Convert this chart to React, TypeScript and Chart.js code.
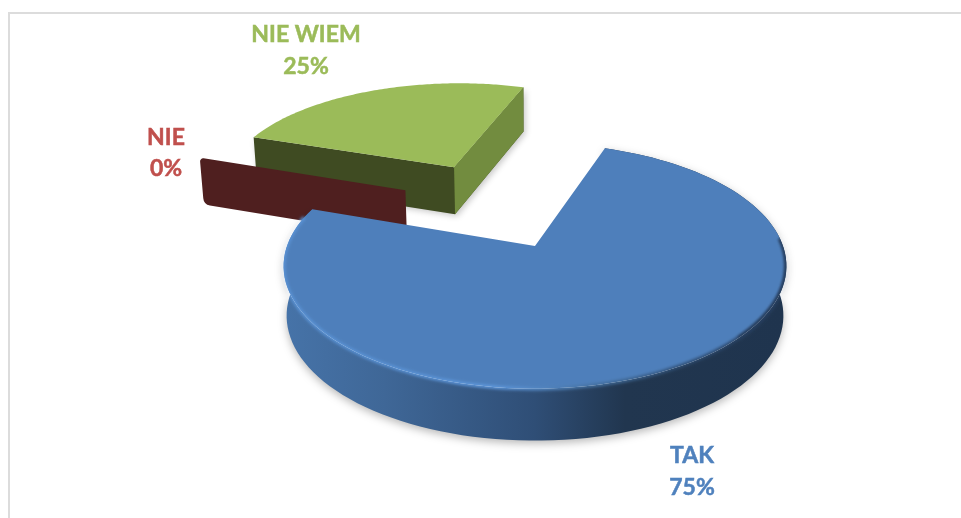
import React, { useEffect, useRef } from "react";
import { Chart, registerables } from "chart.js";

Chart.register(...registerables);

const categories = ["TAK", "NIE", "NIE WIEM"];
const values = [75, 0, 25];
const sliceColors = ["#4e7fbb", "#c0504d", "#9bbb59"];
const labelColors = ["#4f81bd", "#c0504d", "#9bbb59"];

// View / rendering parameters of the tilted pie
const FIRST_SLICE_ANGLE = 19;
const PIE_RADIUS = 248;
const PERSPECTIVE = 0.164;
const TILT = 0.481;
const EXPLOSION = [[0, 0], [-0.566, 0.507], [-0.366, 0.741]];
const SLICE_SCALE = [1, 1.027, 1.014];
const SLICE_SHEAR = [0, 0, 0.06];
const LABEL_CENTERS = [[692, 456, 488], [166, 138, 169], [306, 35, 67]];
const FONT = 'bold 23px Lato, "Open Sans", sans-serif';

const pie3d = {
  id: "pie3d",
  beforeDatasetDraw() {
    return false; // replaced by the projected drawing below
  },
  afterDatasetsDraw(chart: any) {
    const ctx: CanvasRenderingContext2D = chart.ctx;
    const arcs = chart.getDatasetMeta(0).data;

    const pointsFor = (i: number) => {
      const a = arcs[i];
      const { x: cx, y: cy, outerRadius: R, startAngle, endAngle } = a.getProps(
        ["x", "y", "outerRadius", "startAngle", "endAngle"],
        true
      );
      const [ox, oy] = EXPLOSION[i];
      const project = (x: number, y: number) => {
        const w = 1 + PERSPECTIVE * y;
        return [cx + (R * x) / w, cy - (R * TILT * y) / w];
      };
      const apex = project(ox, oy);
      const top = (u: number, v: number) => {
        const [X, Y] = project(ox + u, oy + v);
        const dx = (X - apex[0]) * SLICE_SCALE[i];
        const dy = (Y - apex[1]) * SLICE_SCALE[i];
        return [apex[0] + dx + SLICE_SHEAR[i] * dy, apex[1] + dy];
      };
      const bot = (u: number, v: number) => {
        const [X, Y] = top(u, v);
        const y = oy + v;
        return [cx + (X - cx) * 0.988, Y + 49.1 - 2.86 * y];
      };
      const rim = (from: number, to: number, f: (u: number, v: number) => number[]) => {
        const n = 120;
        const out: number[][] = [];
        for (let k = 0; k <= n; k++) {
          const t = from + ((to - from) * k) / n;
          out.push(f(Math.cos(t), -Math.sin(t)));
        }
        return out;
      };
      return { top, bot, rim, startAngle, endAngle, color: a.options.backgroundColor };
    };

    const poly = (pts: number[][]) => {
      ctx.beginPath();
      pts.forEach((p, k) => (k ? ctx.lineTo(p[0], p[1]) : ctx.moveTo(p[0], p[1])));
      ctx.closePath();
    };
    const line = (pts: number[][]) => {
      ctx.beginPath();
      pts.forEach((p, k) => (k ? ctx.lineTo(p[0], p[1]) : ctx.moveTo(p[0], p[1])));
    };

    // NIE WIEM
    {
      const s = pointsFor(2);
      const sc = [Math.cos(s.startAngle), -Math.sin(s.startAngle)];
      const ec = [Math.cos(s.endAngle), -Math.sin(s.endAngle)];
      ctx.save();
      ctx.shadowColor = "rgba(0,0,0,0.22)";
      ctx.shadowBlur = 6;
      ctx.shadowOffsetX = 2;
      ctx.shadowOffsetY = 2;
      poly([s.top(0, 0), s.top(ec[0], ec[1]), s.bot(ec[0], ec[1]), s.bot(0, 0), s.bot(sc[0], sc[1]), s.top(sc[0], sc[1])]);
      ctx.fillStyle = "#3f4b22";
      ctx.fill();
      ctx.restore();
      poly([s.top(0, 0), s.top(ec[0], ec[1]), s.bot(ec[0], ec[1]), s.bot(0, 0)]);
      ctx.fillStyle = "#728c3f";
      ctx.fill();
      poly(s.rim(s.startAngle, s.endAngle, s.top).concat([s.top(0, 0)]));
      ctx.fillStyle = s.color;
      ctx.fill();
    }

    // NIE: a zero-width slice leaves only its radial wall
    {
      const s = pointsFor(1);
      const e = [Math.cos(s.startAngle), -Math.sin(s.startAngle)];
      const a = s.top(0, 0);
      const b = s.top(e[0], e[1]);
      const c = s.bot(e[0], e[1]);
      const d = s.bot(0, 0);
      ctx.beginPath();
      ctx.moveTo(a[0], a[1]);
      ctx.arcTo(b[0], b[1], c[0], c[1], 3);
      ctx.arcTo(c[0], c[1], d[0], d[1], 8);
      ctx.lineTo(d[0], d[1]);
      ctx.closePath();
      ctx.fillStyle = "#4f1f1f";
      ctx.fill();
    }

    // TAK
    {
      const s = pointsFor(0);
      const topPts = s.rim(s.startAngle, s.endAngle, s.top);
      const botPts = s.rim(s.startAngle, s.endAngle, s.bot);
      const g = ctx.createLinearGradient(285, 0, 785, 0);
      g.addColorStop(0, "#4673a8");
      g.addColorStop(0.2, "#3f6797");
      g.addColorStop(0.5, "#2f4e76");
      g.addColorStop(0.68, "#21364f");
      g.addColorStop(1, "#1f344e");
      ctx.save();
      ctx.shadowColor = "rgba(0,0,0,0.28)";
      ctx.shadowBlur = 9;
      ctx.shadowOffsetX = 0;
      ctx.shadowOffsetY = 3;
      poly(topPts.concat(botPts.slice().reverse()));
      ctx.fillStyle = g;
      ctx.fill();
      ctx.restore();

      poly(topPts.concat([s.top(0, 0)]));
      ctx.fillStyle = s.color;
      ctx.fill();

      // soft bevel along the front rim, kept inside the painted shape
      const r = ctx.createLinearGradient(285, 0, 785, 0);
      r.addColorStop(0, "#5a93d6");
      r.addColorStop(0.2, "#5a93d6");
      r.addColorStop(0.42, "#5e98dd");
      r.addColorStop(0.62, "#44709f");
      r.addColorStop(0.8, "#2c4a6e");
      r.addColorStop(1, "#243c5c");
      ctx.save();
      ctx.globalCompositeOperation = "source-atop";
      ctx.filter = "blur(1.5px)";
      ctx.lineWidth = 3.5;
      line(s.rim(Math.PI * 1.08, -0.02 * Math.PI, s.top));
      ctx.strokeStyle = r;
      ctx.stroke();
      const fade = ctx.createLinearGradient(0, 180, 0, 272);
      fade.addColorStop(0, "rgba(36,60,92,0)");
      fade.addColorStop(1, "rgba(36,60,92,1)");
      line(s.rim(-0.02 * Math.PI, 0.24 * Math.PI, s.top));
      ctx.strokeStyle = fade;
      ctx.stroke();
      ctx.restore();
    }

    // Labels
    const total = values.reduce((a, b) => a + b, 0);
    ctx.save();
    ctx.font = FONT;
    ctx.textAlign = "center";
    ctx.textBaseline = "middle";
    ctx.lineWidth = 0.5;
    categories.forEach((name, i) => {
      const [x, y1, y2] = LABEL_CENTERS[i];
      const pct = `${Math.round((values[i] / total) * 100)}%`;
      ctx.fillStyle = labelColors[i];
      ctx.strokeStyle = labelColors[i];
      ctx.fillText(name, x, y1);
      ctx.strokeText(name, x, y1);
      ctx.fillText(pct, x, y2);
      ctx.strokeText(pct, x, y2);
    });
    ctx.restore();
  },
};

export default function App() {
  const ref = useRef<HTMLCanvasElement>(null);
  useEffect(() => {
    const chart = new Chart(ref.current!, {
      type: "pie",
      data: {
        labels: categories,
        datasets: [{ data: values, backgroundColor: sliceColors, borderWidth: 0 }],
      },
      options: {
        animation: false,
        responsive: false,
        rotation: FIRST_SLICE_ANGLE,
        radius: PIE_RADIUS,
        layout: { padding: { left: 109, right: 0, top: 0, bottom: 26 } },
        plugins: { legend: { display: false }, tooltip: { enabled: false } },
      },
      plugins: [pie3d],
    } as any);
    return () => chart.destroy();
  }, []);
  return (
    <div style={{ position: "fixed", left: 0, top: 0, width: 961, height: 518, background: "#fff" }}>
      <div
        style={{
          position: "absolute",
          left: 8,
          top: 12,
          width: 953,
          height: 506,
          boxSizing: "border-box",
          borderLeft: "2px solid #dcdcdc",
          borderTop: "2px solid #dcdcdc",
        }}
      />
      <canvas ref={ref} width={961} height={518} style={{ position: "absolute", left: 0, top: 0, display: "block" }} />
    </div>
  );
}
